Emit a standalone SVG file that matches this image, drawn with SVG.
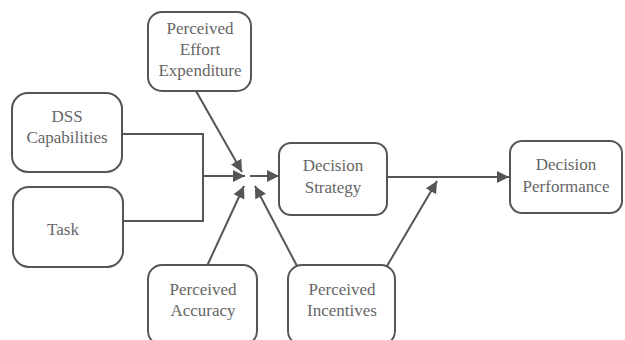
<svg xmlns="http://www.w3.org/2000/svg" width="625" height="340" viewBox="0 0 625 340">
<style>
.box{fill:#fff;stroke:#555;stroke-width:2}
.t{font-family:'Liberation Serif','Times New Roman','DejaVu Serif',serif;font-size:17px;fill:#666;text-anchor:middle}
.c{fill:none;stroke:#555;stroke-width:2}
</style>
<defs>
<marker id="a" viewBox="0 0 10 10" refX="10" refY="5" markerWidth="6" markerHeight="6" orient="auto" markerUnits="strokeWidth">
<path d="M0,0 L10,5 L0,10 z" fill="#555"/>
</marker>
</defs>
<rect width="625" height="340" fill="#fff"/>
<g id="connectors">
<path class="c" d="M122,134 H203 V221 H123"/>
<path class="c" d="M203,176 H245" marker-end="url(#a)"/>
<path class="c" d="M250,176 H279" marker-end="url(#a)"/>
<path class="c" d="M196,91 L242,172" marker-end="url(#a)"/>
<path class="c" d="M207,266 L244,186" marker-end="url(#a)"/>
<path class="c" d="M297,266 L255,186" marker-end="url(#a)"/>
<path class="c" d="M387,177 H509" marker-end="url(#a)"/>
<path class="c" d="M387,266 L437,181" marker-end="url(#a)"/>
</g>
<g id="effort">
<rect class="box" x="148" y="12" width="103" height="79" rx="14"/>
<text class="t" x="200" y="34">Perceived</text>
<text class="t" x="200" y="55">Effort</text>
<text class="t" x="200" y="76">Expenditure</text>
</g>
<g id="dss">
<rect class="box" x="12" y="93" width="110" height="79" rx="16"/>
<text class="t" x="67" y="122">DSS</text>
<text class="t" x="67" y="143">Capabilities</text>
</g>
<g id="task">
<rect class="box" x="13" y="187" width="110" height="80" rx="16"/>
<text class="t" x="63" y="235">Task</text>
</g>
<g id="strategy">
<rect class="box" x="279" y="143" width="108" height="72" rx="12"/>
<text class="t" x="333" y="171">Decision</text>
<text class="t" x="333" y="193">Strategy</text>
</g>
<g id="performance">
<rect class="box" x="510" y="141" width="112" height="72" rx="12"/>
<text class="t" x="566" y="170">Decision</text>
<text class="t" x="566" y="192">Performance</text>
</g>
<g id="accuracy">
<rect class="box" x="148" y="265" width="109" height="80" rx="14"/>
<text class="t" x="203" y="295">Perceived</text>
<text class="t" x="203" y="316">Accuracy</text>
</g>
<g id="incentives">
<rect class="box" x="288" y="265" width="107" height="80" rx="14"/>
<text class="t" x="342" y="295">Perceived</text>
<text class="t" x="342" y="316">Incentives</text>
</g>
</svg>
